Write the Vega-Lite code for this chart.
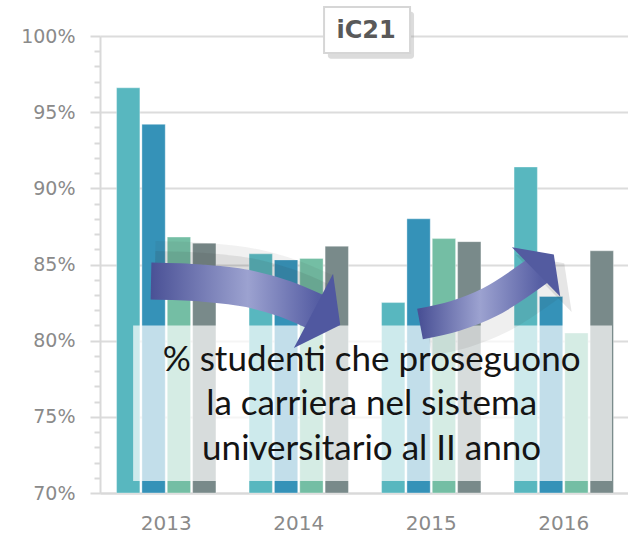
{
  "$schema": "https://vega.github.io/schema/vega-lite/v6.json",
  "width": 530,
  "height": 457,
  "autosize": {"type": "none"},
  "padding": {"left": 100, "top": 36, "right": 0, "bottom": 46},
  "background": "white",
  "config": {"view": {"stroke": null}},
  "datasets": {
    "bars": [
      {"anno": "2013", "serie": "Serie 1", "valore": 96.6},
      {"anno": "2013", "serie": "Serie 2", "valore": 94.2},
      {"anno": "2013", "serie": "Serie 3", "valore": 86.8},
      {"anno": "2013", "serie": "Serie 4", "valore": 86.4},
      {"anno": "2014", "serie": "Serie 1", "valore": 85.7},
      {"anno": "2014", "serie": "Serie 2", "valore": 85.3},
      {"anno": "2014", "serie": "Serie 3", "valore": 85.4},
      {"anno": "2014", "serie": "Serie 4", "valore": 86.2},
      {"anno": "2015", "serie": "Serie 1", "valore": 82.5},
      {"anno": "2015", "serie": "Serie 2", "valore": 88.0},
      {"anno": "2015", "serie": "Serie 3", "valore": 86.7},
      {"anno": "2015", "serie": "Serie 4", "valore": 86.5},
      {"anno": "2016", "serie": "Serie 1", "valore": 91.4},
      {"anno": "2016", "serie": "Serie 2", "valore": 82.9},
      {"anno": "2016", "serie": "Serie 3", "valore": 80.5},
      {"anno": "2016", "serie": "Serie 4", "valore": 85.9}
    ],
    "box": [{"x1": 0.25, "x2": 3.864, "y1": 70.79, "y2": 81.0}],
    "arrow1": [
      {"x": 0.385, "y": 83.92},
      {"x": 0.755, "y": 83.79},
      {"x": 1.132, "y": 83.39},
      {"x": 1.396, "y": 82.74},
      {"x": 1.645, "y": 81.82}
    ],
    "head1": [{"x": 1.712, "y": 81.49}],
    "arrow2": [
      {"x": 2.415, "y": 81.09},
      {"x": 2.679, "y": 81.62},
      {"x": 2.943, "y": 82.54},
      {"x": 3.321, "y": 84.70}
    ],
    "head2": [{"x": 3.358, "y": 85.08}],
    "testo": [
      {"x": 2.05, "y": 78.03, "riga": "% studenti che proseguono"},
      {"x": 2.05, "y": 75.12, "riga": "la carriera nel sistema"},
      {"x": 2.05, "y": 72.17, "riga": "universitario al II anno"}
    ],
    "titolo": [{"x1": 1.691, "x2": 2.34, "y1": 101.9, "y2": 98.88, "xc": 2.008, "yc": 100.33, "t": "iC21"}],
    "ombra": [{"x1": 1.72, "x2": 2.37, "y1": 101.6, "y2": 98.5}]
  },
  "resolve": {"scale": {"x": "independent"}, "axis": {"y": "independent"}},
  "layer": [
    {
      "data": {"name": "bars"},
      "mark": {"type": "bar", "stroke": "white", "strokeOpacity": 0.35, "strokeWidth": 1},
      "encoding": {
        "x": {
          "field": "anno", "type": "nominal",
          "scale": {"paddingInner": 0.25, "paddingOuter": 0.125},
          "axis": {
            "title": null, "ticks": false, "labelAngle": 0,
            "domainColor": "#d9d9d9", "domainWidth": 2,
            "labelFont": "DejaVu Sans", "labelFontSize": 20, "labelColor": "#8a8a8a",
            "labelPadding": 20
          }
        },
        "xOffset": {"field": "serie", "type": "nominal", "scale": {"paddingInner": 0.08}},
        "y": {
          "field": "valore", "type": "quantitative",
          "scale": {"domain": [70, 100], "nice": false, "zero": false},
          "axis": {
            "title": null, "orient": "left",
            "values": [70,71,72,73,74,75,76,77,78,79,80,81,82,83,84,85,86,87,88,89,90,91,92,93,94,95,96,97,98,99,100],
            "labelExpr": "datum.value % 5 === 0 ? datum.value + '%' : ''",
            "labelOverlap": false,
            "labelFont": "DejaVu Sans", "labelFontSize": 19, "labelColor": "#8a8a8a",
            "labelPadding": 15,
            "domainColor": "#d9d9d9", "domainWidth": 2,
            "tickColor": "#d9d9d9", "tickWidth": 2,
            "tickSize": {"condition": {"test": "datum.value % 5 === 0", "value": 10}, "value": 6},
            "grid": true, "gridColor": "#dcdcdc", "gridWidth": 2,
            "gridOpacity": {"condition": {"test": "datum.value % 5 === 0", "value": 1}, "value": 0}
          }
        },
        "y2": {"datum": 70},
        "color": {
          "field": "serie", "type": "nominal",
          "scale": {"range": ["#58b7bf", "#3592b8", "#74bea4", "#798a8a"]},
          "legend": null
        }
      }
    },
    {
      "data": {"name": "box"},
      "mark": {"type": "rect", "fill": "white", "opacity": 0.7},
      "encoding": {
        "x": {"field": "x1", "type": "quantitative", "scale": {"domain": [0, 4], "nice": false}, "axis": null},
        "x2": {"field": "x2"},
        "y": {"field": "y1", "type": "quantitative", "scale": {"domain": [70, 100], "nice": false, "zero": false}, "axis": null},
        "y2": {"field": "y2"}
      }
    },
    {
      "data": {"name": "arrow1"},
      "mark": {"type": "line", "strokeWidth": 52, "strokeCap": "butt", "interpolate": "monotone", "color": "#333333", "opacity": 0.07, "yOffset": -14, "xOffset": 4},
      "encoding": {
        "x": {"field": "x", "type": "quantitative", "scale": {"domain": [0, 4], "nice": false}, "axis": null},
        "y": {"field": "y", "type": "quantitative", "scale": {"domain": [70, 100], "nice": false, "zero": false}, "axis": null}
      }
    },
    {
      "data": {"name": "arrow1"},
      "mark": {"type": "line", "strokeWidth": 38, "strokeCap": "butt", "interpolate": "monotone", "color": "#333333", "opacity": 0.1, "yOffset": -11, "xOffset": 4},
      "encoding": {
        "x": {"field": "x", "type": "quantitative", "scale": {"domain": [0, 4], "nice": false}, "axis": null},
        "y": {"field": "y", "type": "quantitative", "scale": {"domain": [70, 100], "nice": false, "zero": false}, "axis": null}
      }
    },
    {
      "data": {"name": "arrow2"},
      "mark": {"type": "line", "strokeWidth": 44, "strokeCap": "butt", "interpolate": "monotone", "color": "#333333", "opacity": 0.08, "yOffset": 10, "xOffset": 8},
      "encoding": {
        "x": {"field": "x", "type": "quantitative", "scale": {"domain": [0, 4], "nice": false}, "axis": null},
        "y": {"field": "y", "type": "quantitative", "scale": {"domain": [70, 100], "nice": false, "zero": false}, "axis": null}
      }
    },
    {
      "data": {"name": "head2"},
      "mark": {"type": "point", "shape": "M -0.36 -1 L 0.36 0 L -0.36 1 Z", "size": 6400, "angle": -44.4, "filled": true, "fill": "#333333", "opacity": 0.12, "strokeWidth": 0, "xOffset": 9, "yOffset": 10},
      "encoding": {
        "x": {"field": "x", "type": "quantitative", "scale": {"domain": [0, 4], "nice": false}, "axis": null},
        "y": {"field": "y", "type": "quantitative", "scale": {"domain": [70, 100], "nice": false, "zero": false}, "axis": null}
      }
    },
    {
      "data": {"name": "arrow1"},
      "mark": {
        "type": "line", "strokeWidth": 37, "strokeCap": "butt", "interpolate": "monotone",
        "color": {"gradient": "linear", "x1": 0, "x2": 1, "y1": 0, "y2": 0,
          "stops": [{"offset": 0, "color": "#4a5196"}, {"offset": 0.58, "color": "#9ca2d0"}, {"offset": 1, "color": "#555da3"}]}
      },
      "encoding": {
        "x": {"field": "x", "type": "quantitative", "scale": {"domain": [0, 4], "nice": false}, "axis": null},
        "y": {"field": "y", "type": "quantitative", "scale": {"domain": [70, 100], "nice": false, "zero": false}, "axis": null}
      }
    },
    {
      "data": {"name": "head1"},
      "mark": {"type": "point", "shape": "M -0.36 -1 L 0.36 0 L -0.36 1 Z", "size": 7056, "angle": 27.8, "filled": true, "fill": "#5058a0", "opacity": 1, "strokeWidth": 0},
      "encoding": {
        "x": {"field": "x", "type": "quantitative", "scale": {"domain": [0, 4], "nice": false}, "axis": null},
        "y": {"field": "y", "type": "quantitative", "scale": {"domain": [70, 100], "nice": false, "zero": false}, "axis": null}
      }
    },
    {
      "data": {"name": "arrow2"},
      "mark": {
        "type": "line", "strokeWidth": 31, "strokeCap": "butt", "interpolate": "monotone",
        "color": {"gradient": "linear", "x1": 0, "x2": 1, "y1": 0, "y2": 0,
          "stops": [{"offset": 0, "color": "#4a5196"}, {"offset": 0.5, "color": "#9ca2d0"}, {"offset": 1, "color": "#575fa4"}]}
      },
      "encoding": {
        "x": {"field": "x", "type": "quantitative", "scale": {"domain": [0, 4], "nice": false}, "axis": null},
        "y": {"field": "y", "type": "quantitative", "scale": {"domain": [70, 100], "nice": false, "zero": false}, "axis": null}
      }
    },
    {
      "data": {"name": "head2"},
      "mark": {"type": "point", "shape": "M -0.36 -1 L 0.36 0 L -0.36 1 Z", "size": 4761, "angle": -44.4, "filled": true, "fill": "#535ba0", "opacity": 1, "strokeWidth": 0},
      "encoding": {
        "x": {"field": "x", "type": "quantitative", "scale": {"domain": [0, 4], "nice": false}, "axis": null},
        "y": {"field": "y", "type": "quantitative", "scale": {"domain": [70, 100], "nice": false, "zero": false}, "axis": null}
      }
    },
    {
      "data": {"name": "testo"},
      "mark": {"type": "text", "font": "Lato", "fontSize": 35, "color": "#141414", "align": "center", "baseline": "alphabetic"},
      "encoding": {
        "x": {"field": "x", "type": "quantitative", "scale": {"domain": [0, 4], "nice": false}, "axis": null},
        "y": {"field": "y", "type": "quantitative", "scale": {"domain": [70, 100], "nice": false, "zero": false}, "axis": null},
        "text": {"field": "riga"}
      }
    },
    {
      "data": {"name": "ombra"},
      "mark": {"type": "rect", "fill": "#9a9a9a", "opacity": 0.35, "cornerRadius": 3},
      "encoding": {
        "x": {"field": "x1", "type": "quantitative", "scale": {"domain": [0, 4], "nice": false}, "axis": null},
        "x2": {"field": "x2"},
        "y": {"field": "y1", "type": "quantitative", "scale": {"domain": [70, 100], "nice": false, "zero": false}, "axis": null},
        "y2": {"field": "y2"}
      }
    },
    {
      "data": {"name": "titolo"},
      "layer": [
        {
          "mark": {"type": "rect", "fill": "white", "stroke": "#d6d6d6", "strokeWidth": 2},
          "encoding": {
            "x": {"field": "x1", "type": "quantitative", "scale": {"domain": [0, 4], "nice": false}, "axis": null},
            "x2": {"field": "x2"},
            "y": {"field": "y1", "type": "quantitative", "scale": {"domain": [70, 100], "nice": false, "zero": false}, "axis": null},
            "y2": {"field": "y2"}
          }
        },
        {
          "mark": {"type": "text", "font": "DejaVu Sans", "fontWeight": "bold", "fontSize": 24, "color": "#595959", "align": "center", "baseline": "middle"},
          "encoding": {
            "x": {"field": "xc", "type": "quantitative", "scale": {"domain": [0, 4], "nice": false}, "axis": null},
            "y": {"field": "yc", "type": "quantitative", "scale": {"domain": [70, 100], "nice": false, "zero": false}, "axis": null},
            "text": {"field": "t"}
          }
        }
      ]
    }
  ]
}
